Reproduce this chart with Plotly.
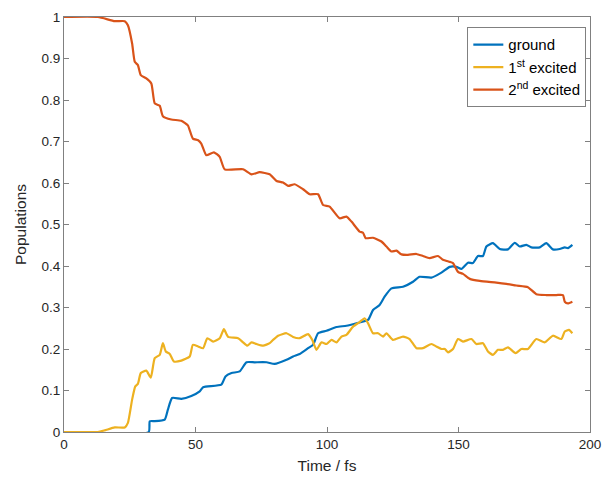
import plotly.graph_objects as go

# ---- data ----
t_ground = [0, 32.2, 32.6, 34.5, 38.3, 39.5, 41.1, 44.6, 48.4, 51.6, 52.9, 59.8, 61.4, 63.7, 66.8, 69.4,
            72.5, 77.0, 80.1, 84.6, 87.1, 89.6, 92.8, 94.7, 96.6, 99.8, 103.6, 107.4, 111.2, 115.6,
            117.5, 120.0, 121.9, 124.5, 128.9, 132.7, 135.2, 139.7, 143.5, 146.7, 149.2, 151.1,
            153.6, 155.5, 157.4, 159.3, 160.6, 163.1, 165.7, 168.8, 171.4, 173.3, 175.8, 177.7,
            180.9, 183.4, 185.9, 188.5, 190.4, 191.6, 193.3]
ground = [0, 0, 0.026, 0.026, 0.03, 0.054, 0.082, 0.08, 0.087, 0.098, 0.108, 0.114, 0.134, 0.142, 0.146, 0.168,
          0.168, 0.168, 0.164, 0.174, 0.182, 0.188, 0.202, 0.21, 0.238, 0.244, 0.253, 0.256, 0.262, 0.27,
          0.294, 0.306, 0.326, 0.346, 0.35, 0.362, 0.374, 0.372, 0.384, 0.398, 0.398, 0.393,
          0.408, 0.407, 0.424, 0.424, 0.447, 0.455, 0.441, 0.44, 0.456, 0.447, 0.451, 0.445,
          0.445, 0.455, 0.44, 0.441, 0.445, 0.443, 0.451]

t_first = [0, 12.9, 15.5, 19.3, 23.1, 24.3, 25.9, 27.1, 28.1, 29.2, 31.3, 33.0, 34.5, 36.4, 37.6, 38.7,
           40.2, 41.8, 44.6, 47.8, 49.0, 51.0, 52.9, 54.5, 56.7, 59.2, 60.8, 62.4, 66.2, 68.1, 69.7,
           71.3, 73.2, 75.7, 78.2, 79.5, 81.4, 84.6, 87.1, 89.6, 92.8, 94.4, 96.0, 97.9, 99.8, 101.7,
           103.6, 105.5, 107.4, 109.9, 112.4, 114.3, 115.6, 117.5, 119.4, 121.3, 122.6, 125.1, 128.9,
           131.4, 134.0, 136.5, 139.7, 141.6, 143.5, 144.8, 146.0, 147.9, 149.8, 151.7, 154.9, 156.8,
           159.3, 161.2, 163.1, 165.0, 166.9, 168.8, 171.7, 173.9, 176.4, 179.6, 182.8, 185.9, 189.1,
           190.4, 192.0, 193.3]
first = [0, 0, 0.004, 0.011, 0.011, 0.022, 0.078, 0.11, 0.116, 0.142, 0.148, 0.131, 0.178, 0.186, 0.214, 0.194,
         0.188, 0.17, 0.172, 0.182, 0.21, 0.206, 0.202, 0.226, 0.218, 0.226, 0.248, 0.229, 0.226, 0.216, 0.208,
         0.216, 0.212, 0.208, 0.214, 0.222, 0.232, 0.238, 0.229, 0.226, 0.236, 0.222, 0.198, 0.216, 0.212, 0.222,
         0.216, 0.23, 0.234, 0.254, 0.265, 0.274, 0.262, 0.238, 0.238, 0.23, 0.238, 0.222, 0.23,
         0.224, 0.202, 0.202, 0.212, 0.206, 0.2, 0.2, 0.192, 0.2, 0.224, 0.218, 0.224, 0.212,
         0.214, 0.194, 0.186, 0.198, 0.198, 0.204, 0.19, 0.2, 0.2, 0.224, 0.216, 0.232, 0.224,
         0.242, 0.246, 0.238]

t_second = [0, 12.9, 19.3, 23.1, 24.3, 25.9, 26.9, 28.1, 29.2, 31.3, 33.2, 34.5, 36.4, 37.6, 40.8, 44.6,
            47.1, 49.0, 51.0, 52.2, 54.1, 57.0, 59.2, 61.1, 68.1, 71.3, 74.4, 78.2, 80.8, 83.3, 85.2,
            87.7, 90.9, 93.4, 96.6, 98.5, 101.0, 104.8, 107.4, 109.3, 112.4, 113.7, 114.7, 117.5,
            120.7, 122.6, 124.5, 126.4, 128.3, 130.8, 134.0, 136.5, 139.0, 142.2, 144.1, 146.7,
            147.9, 149.8, 151.7, 154.3, 158.1, 164.4, 168.2, 172.0, 176.4, 179.6, 183.4, 187.2,
            189.7, 190.4, 191.6, 193.3]
second = [1.0, 1.0, 0.99, 0.99, 0.98, 0.936, 0.892, 0.884, 0.86, 0.852, 0.84, 0.792, 0.786, 0.761, 0.753, 0.75,
          0.739, 0.707, 0.703, 0.695, 0.667, 0.674, 0.663, 0.633, 0.633, 0.621, 0.626, 0.621, 0.605, 0.601, 0.593,
          0.597, 0.585, 0.573, 0.573, 0.547, 0.543, 0.515, 0.519, 0.507, 0.483, 0.48, 0.467, 0.468,
          0.459, 0.447, 0.435, 0.437, 0.428, 0.427, 0.429, 0.424, 0.419, 0.424, 0.415, 0.41,
          0.407, 0.386, 0.381, 0.369, 0.364, 0.36, 0.357, 0.353, 0.349, 0.332, 0.33, 0.33,
          0.33, 0.314, 0.31, 0.314]

x_ticks = [0, 50, 100, 150, 200]
y_ticks = [0, 0.1, 0.2, 0.3, 0.4, 0.5, 0.6, 0.7, 0.8, 0.9, 1]
y_tick_text = ["0", "0.1", "0.2", "0.3", "0.4", "0.5", "0.6", "0.7", "0.8", "0.9", "1"]

names = ["ground", "1<sup>st</sup> excited", "2<sup>nd</sup> excited"]
colors = ["#0072BD", "#EDB120", "#D95319"]

fig = go.Figure()
for tx, yv, nm, c in [(t_ground, ground, names[0], colors[0]),
                      (t_first, first, names[1], colors[1]),
                      (t_second, second, names[2], colors[2])]:
    fig.add_trace(go.Scatter(x=tx, y=yv, name=nm, mode="lines",
                             line=dict(color=c, width=2.2, shape="spline", smoothing=0.5)))

font_family = "Liberation Sans, Arial, Helvetica, sans-serif"
axis_common = dict(showline=True, linecolor="#808080", linewidth=1, mirror="ticks",
                   ticks="inside", ticklen=5, tickcolor="#808080", showgrid=False,
                   zeroline=False, automargin=False,
                   tickfont=dict(size=13.5, color="#262626", family=font_family))

fig.update_xaxes(range=[0, 200], tickvals=x_ticks,
                 title=dict(text="Time / fs", font=dict(size=15.5, color="#262626", family=font_family), standoff=8),
                 **axis_common)
fig.update_yaxes(range=[0, 1], tickvals=y_ticks, ticktext=y_tick_text,
                 title=dict(text="Populations", font=dict(size=15.5, color="#262626", family=font_family), standoff=11),
                 **axis_common)

fig.update_layout(
    width=615, height=479,
    margin=dict(l=56, r=33, t=9, b=55),
    paper_bgcolor="white", plot_bgcolor="white",
    font=dict(family=font_family, color="#262626"),
    legend=dict(x=0.993, y=0.975, xanchor="right", yanchor="top",
                bgcolor="white", bordercolor="#808080", borderwidth=1,
                font=dict(size=15, color="#000000", family=font_family),
                tracegroupgap=0, itemwidth=30, entrywidth=134),
    showlegend=True,
)

fig.write_html("out.html")
